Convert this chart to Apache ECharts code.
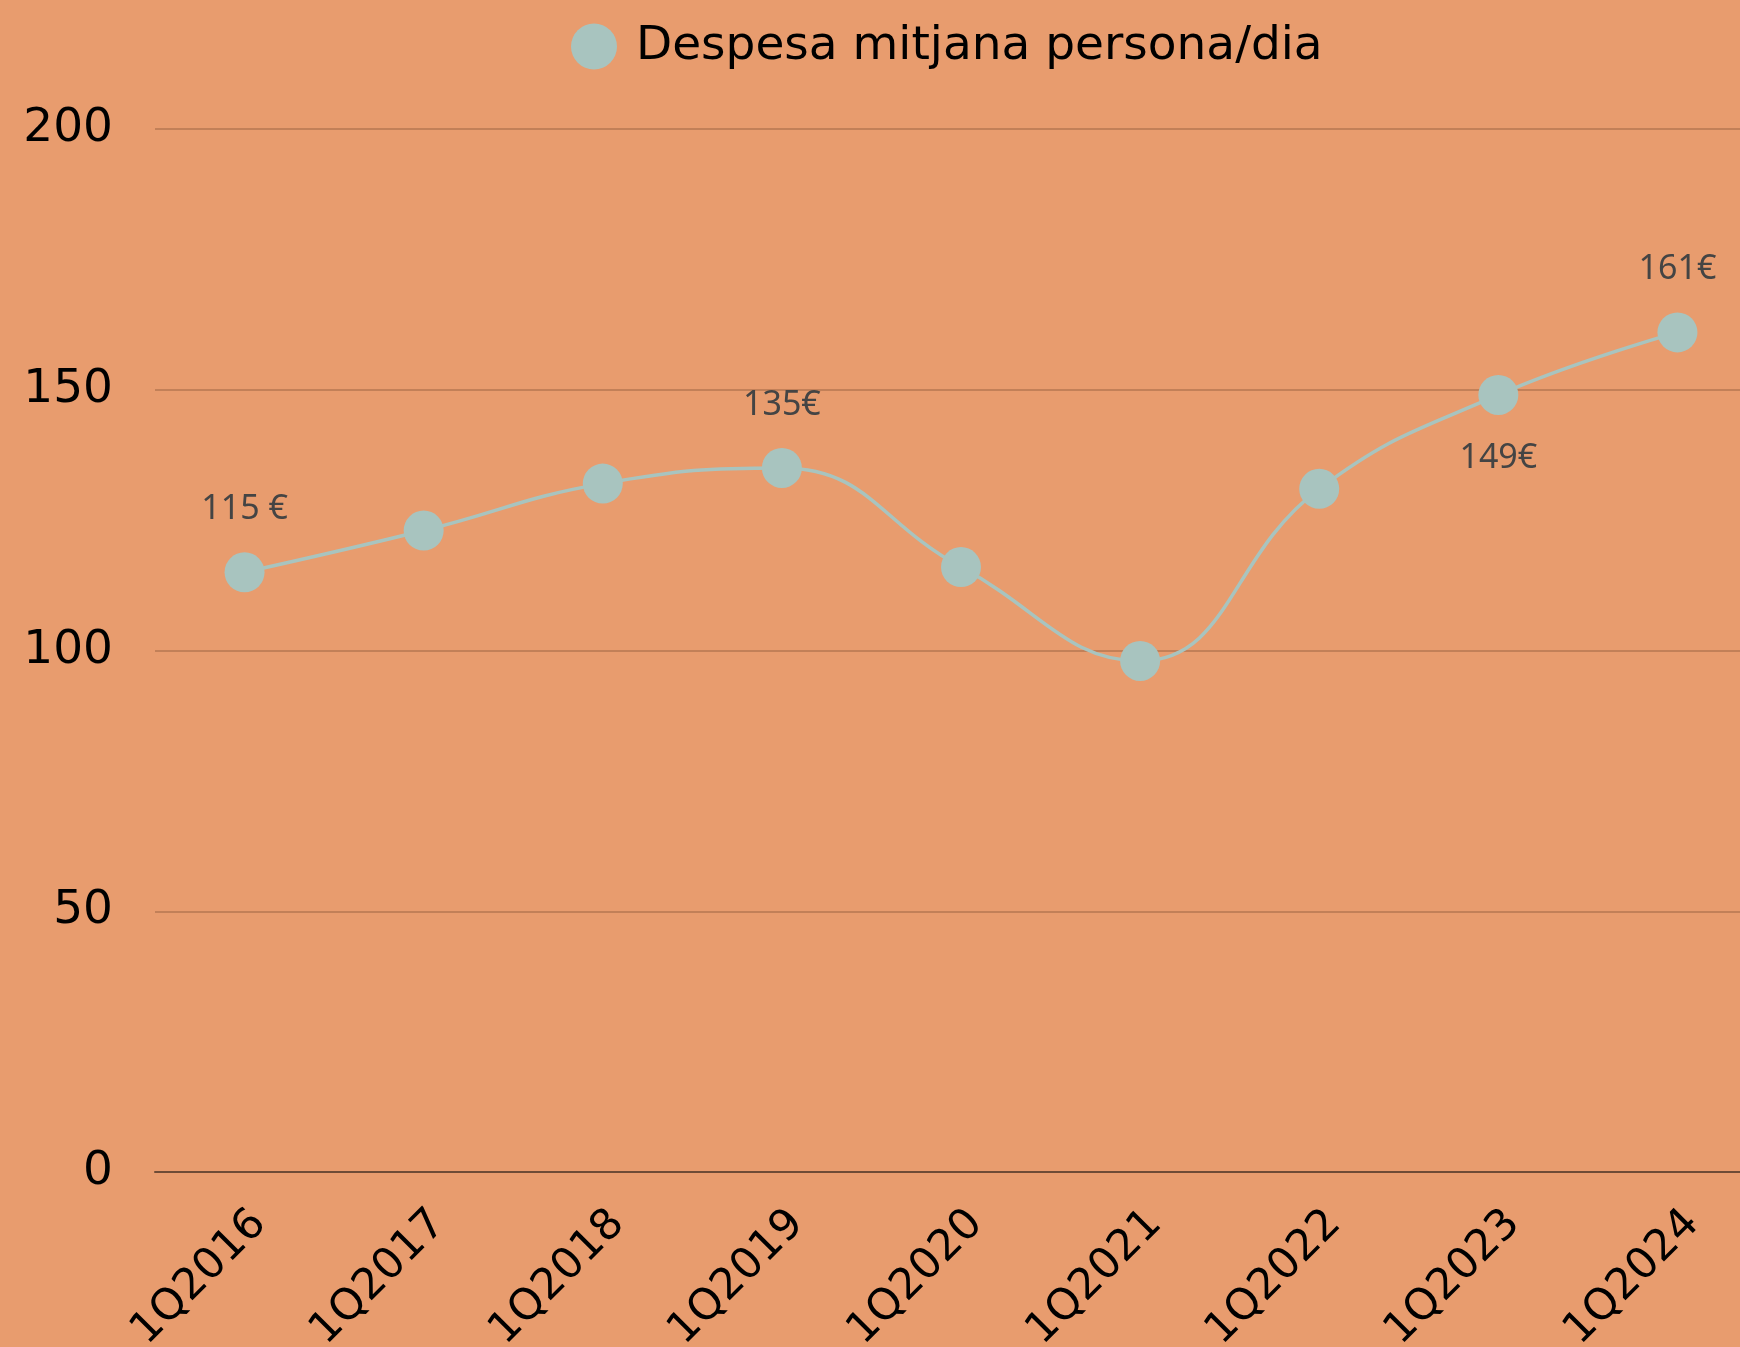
<!DOCTYPE html>
<html>
<head>
<meta charset="utf-8">
<script src="https://cdn.jsdelivr.net/npm/echarts@6/dist/echarts.min.js"></script>
<style>
  html, body { margin: 0; padding: 0; background: #e89c6e; }
  #chart { width: 1740px; height: 1347px; }
</style>
</head>
<body>
<div id="chart"></div>
<script>
// categories and values
const quarters = ["1Q2016", "1Q2017", "1Q2018", "1Q2019", "1Q2020", "1Q2021", "1Q2022", "1Q2023", "1Q2024"];
const spending = [115, 123, 132, 135, 116, 98, 131, 149, 161];
const pointLabels = ["115 €", "", "", "135€", "", "", "", "149€", "161€"];
const yTicks = [0, 50, 100, 150, 200];

const FONT = "'Noto Sans', sans-serif";
const WIDE_FONT = "'DejaVu Sans', sans-serif";
const labelsBelow = new Set([7]);

const chart = echarts.init(document.getElementById("chart"));

const seriesData = spending.map((v, i) => ({
  value: v,
  label: {
    show: pointLabels[i] !== "",
    formatter: pointLabels[i],
    position: labelsBelow.has(i) ? "bottom" : "top",
  },
}));

chart.setOption({
  backgroundColor: "#e89c6e",
  animation: false,
  legend: {
    top: 18,
    left: 566,
    icon: "circle",
    itemWidth: 46,
    itemHeight: 46,
    textStyle: {
      fontFamily: WIDE_FONT,
      fontSize: 47,
      color: "#000",
      padding: [0, 0, 0, 14],
    },
  },
  grid: {
    left: 155,
    width: 1612,
    top: 129,
    bottom: 175,
    outerBoundsMode: "none",
  },
  xAxis: {
    type: "category",
    data: quarters,
    boundaryGap: true,
    axisLine: { lineStyle: { color: "#6e4b36", width: 2 } },
    axisTick: { show: false },
    axisLabel: {
      rotate: 45,
      margin: 30,
      verticalAlign: "top",
      fontFamily: WIDE_FONT,
      fontSize: 43,
      color: "#000",
    },
  },
  yAxis: {
    type: "value",
    min: yTicks[0],
    max: yTicks[yTicks.length - 1],
    interval: 50,
    axisLine: { show: false },
    axisTick: { show: false },
    axisLabel: {
      margin: 42,
      fontFamily: WIDE_FONT,
      fontSize: 47,
      color: "#000",
    },
    splitLine: { lineStyle: { color: "#b67752", width: 1.5 } },
  },
  series: [
    {
      name: "Despesa mitjana persona/dia",
      type: "line",
      smooth: 0.45,
      data: seriesData,
      symbol: "circle",
      symbolSize: 40,
      itemStyle: { color: "#a8c4bf" },
      lineStyle: { color: "#a8c4bf", width: 3.5 },
      label: {
        distance: 26,
        fontFamily: FONT,
        fontSize: 34,
        color: "#444",
      },
    },
  ],
});
</script>
</body>
</html>
